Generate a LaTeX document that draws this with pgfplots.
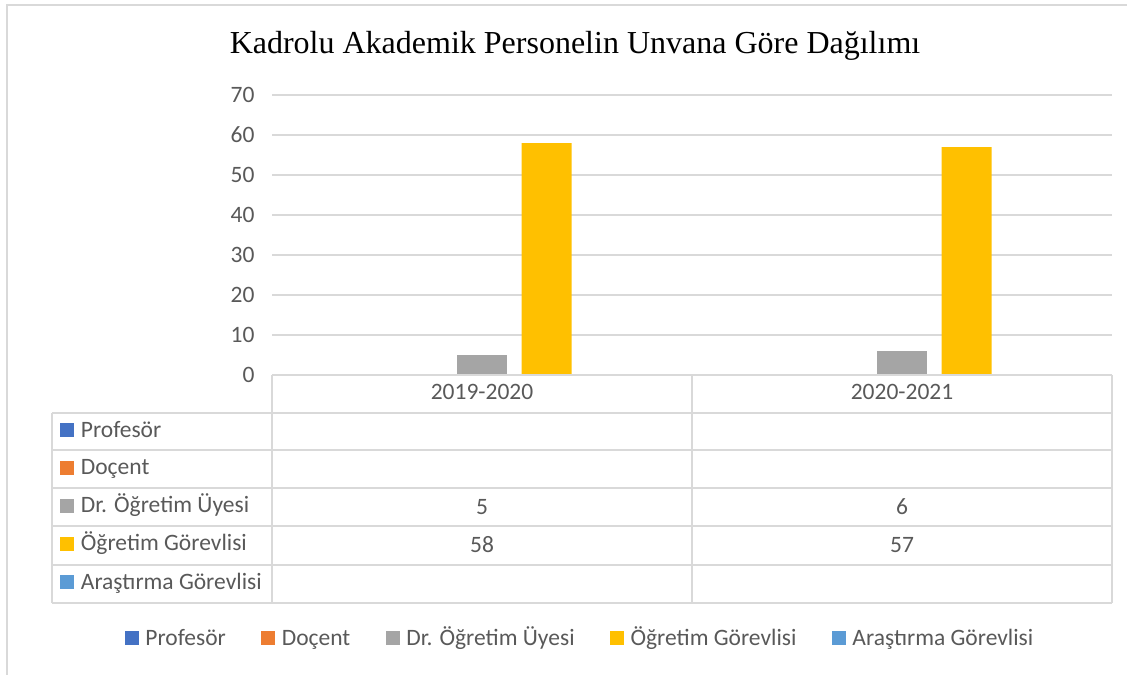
\documentclass[border=0pt]{standalone}
\usepackage{pgfplots}
\pgfplotsset{compat=1.18}
\usepackage{fontspec}
\setmainfont{Carlito}
\newfontfamily\titlefont{Liberation Serif}

\definecolor{cprof}{HTML}{4472C4}
\definecolor{cdoc}{HTML}{ED7D31}
\definecolor{cdr}{HTML}{A5A5A5}
\definecolor{cogr}{HTML}{FFC000}
\definecolor{carg}{HTML}{5B9BD5}
\definecolor{gridgray}{HTML}{D9D9D9}
\definecolor{textgray}{HTML}{595959}

\newcommand{\tfont}{\fontsize{23.5}{28}\selectfont}
\newcommand{\key}[1]{\textcolor{#1}{\rule{14pt}{14pt}}\hspace{6.7pt}}

\begin{document}
\begin{tikzpicture}
\useasboundingbox (0pt,0pt) rectangle (1136pt,-675pt);
% outer chart border (cut at right and bottom)
\draw[gridgray, line width=1.5pt] (7pt,-675pt) -- (7pt,-5pt) -- (1127pt,-5pt);

\node[font=\titlefont\fontsize{32}{38}\selectfont, text=black] at (575pt,-46pt)
  {Kadrolu Akademik Personelin Unvana Göre Dağılımı};

\begin{axis}[
  at={(272pt,-375pt)}, anchor=south west,
  scale only axis, width=840pt, height=280pt,
  xmin=-0.5, xmax=1.5, ymin=0, ymax=70,
  ytick={0,10,...,70}, xtick=\empty,
  ymajorgrids, grid style={gridgray, line width=1.5pt},
  axis line style={draw=none}, major tick style={draw=none},
  /pgf/number format/assume math mode=true,
  yticklabel style={font=\tfont, text=textgray, xshift=-14pt},
  ybar, bar width=0.119,
  clip=false,
  legend columns=5,
  legend style={at={(0.3655,-0.934)}, anchor=center, draw=none,
    font=\tfont, text=textgray,
    nodes={inner sep=0pt},
    cells={anchor=base west},
    /tikz/every odd column/.append style={column sep=6.7pt},
    /tikz/every even column/.append style={column sep=35.3pt}},
  legend image code/.code={\fill[#1] (0pt,0pt) rectangle (14pt,14pt);},
]
\addplot[fill=cprof, draw=none, bar shift=-0.307] coordinates {(0,0) (1,0)};
\addplot[fill=cdoc, draw=none, bar shift=-0.154] coordinates {(0,0) (1,0)};
\addplot[fill=cdr, draw=none, bar shift=0] coordinates {(0,5) (1,6)};
\addplot[fill=cogr, draw=none, bar shift=0.154] coordinates {(0,58) (1,57)};
\addplot[fill=carg, draw=none, bar shift=0.307] coordinates {(0,0) (1,0)};
\legend{Profesör, Doçent, Dr. Öğretim Üyesi, Öğretim Görevlisi, Araştırma Görevlisi}
\end{axis}

% data table below the plot
\begin{scope}[gridgray, line width=1.5pt]
  \draw (272pt,-375pt) -- (1112pt,-375pt);
  \foreach \y in {413,450,488,526,565,603} \draw (52pt,-\y pt) -- (1112pt,-\y pt);
  \draw (52pt,-413pt) -- (52pt,-603pt);
  \foreach \x in {272,692,1112} \draw (\x pt,-375pt) -- (\x pt,-603pt);
\end{scope}
\begin{scope}[every node/.style={font=\tfont, text=textgray, inner sep=0pt, anchor=base}]
  \node at (482pt,-399.5pt) {2019-2020};
  \node at (902pt,-399.5pt) {2020-2021};
  \node[anchor=base west] at (60pt,-437pt) {\key{cprof}Profesör};
  \node[anchor=base west] at (60pt,-474.5pt) {\key{cdoc}Doçent};
  \node[anchor=base west] at (60pt,-512.5pt) {\key{cdr}Dr. Öğretim Üyesi};
  \node[anchor=base west] at (60pt,-550.5pt) {\key{cogr}Öğretim Görevlisi};
  \node[anchor=base west] at (60pt,-589pt) {\key{carg}Araştırma Görevlisi};
  \node at (482pt,-514pt) {5};
  \node at (902pt,-514pt) {6};
  \node at (482pt,-552pt) {58};
  \node at (902pt,-552pt) {57};
\end{scope}
\end{tikzpicture}
\end{document}
